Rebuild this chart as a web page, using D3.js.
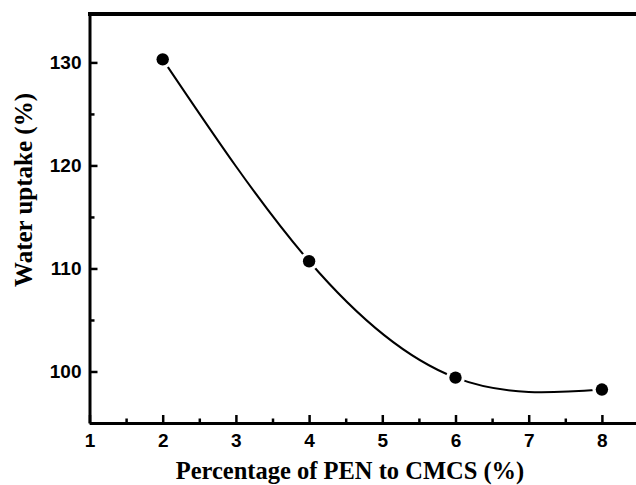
<!DOCTYPE html>
<meta charset="utf-8">
<script src="https://d3js.org/d3.v7.min.js"></script>
<style>
body { margin: 0; background: #fff; }
</style>
<div id="chart"></div>
<script>

// data
var pen = [2, 4, 6, 8];                  // % PEN to CMCS
var uptake = [130.3, 110.7, 99.4, 98.25]; // water uptake (%)
var xTicks = [1, 2, 3, 4, 5, 6, 7, 8];
var yTicks = [100, 110, 120, 130];
var xMinor = [1.5, 2.5, 3.5, 4.5, 5.5, 6.5, 7.5];
var yMinor = [95, 105, 115, 125];

var W = 636, H = 485;

var svg = d3.select("#chart")
  .append("svg")
    .attr("width", W)
    .attr("height", H);

var x = d3.scaleLinear()
  .domain([1, 8.5])
  .range([89.5, 638.5]);

var y = d3.scaleLinear()
  .domain([95, 134.7])
  .range([423, 14]);

var data = pen.map(function(d, i) { return {x: d, y: uptake[i]}; });

// curve (spline through the points)
var line = d3.line()
  .x(function(d) { return x(d.x); })
  .y(function(d) { return y(d.y); })
  .curve(d3.curveNatural);

svg.append("path")
  .datum(data)
  .attr("d", line)
  .attr("fill", "none")
  .attr("stroke", "#000")
  .attr("stroke-width", 2);

// white halo so the line stops short of each marker
svg.append("g")
  .selectAll("circle")
  .data(data)
  .join("circle")
    .attr("cx", function(d) { return x(d.x); })
    .attr("cy", function(d) { return y(d.y); })
    .attr("r", 9.5)
    .attr("fill", "#fff");

svg.append("g")
  .selectAll("circle")
  .data(data)
  .join("circle")
    .attr("cx", function(d) { return x(d.x); })
    .attr("cy", function(d) { return y(d.y); })
    .attr("r", 6.2)
    .attr("fill", "#000");

// top frame line
svg.append("line")
  .attr("x1", x(1) - 1.5).attr("x2", W)
  .attr("y1", y(134.7)).attr("y2", y(134.7))
  .attr("stroke", "#000")
  .attr("stroke-width", 4);

var tickFont = function(g) {
  g.selectAll("text")
    .attr("font-family", "'Liberation Sans', Arial, sans-serif")
    .attr("font-weight", "bold")
    .attr("font-size", "19px")
    .attr("fill", "#000");
  g.selectAll("line").attr("stroke", "#000").attr("stroke-width", 2.5);
};

// x axis: minor then major
svg.append("g")
  .attr("transform", "translate(0," + y(95) + ")")
  .call(d3.axisBottom(x).tickValues(xMinor).tickSize(-4.5).tickFormat(""))
  .call(function(g) { g.select(".domain").remove(); })
  .call(tickFont);

svg.append("g")
  .attr("transform", "translate(0," + y(95) + ")")
  .call(d3.axisBottom(x).tickValues(xTicks).tickSizeInner(-8).tickSizeOuter(0).tickPadding(11))
  .call(function(g) { g.select(".domain").attr("stroke", "#000").attr("stroke-width", 3); })
  .call(tickFont);

// y axis
svg.append("g")
  .attr("transform", "translate(" + x(1) + ",0)")
  .call(d3.axisLeft(y).tickValues(yMinor).tickSize(-5).tickFormat(""))
  .call(function(g) { g.select(".domain").remove(); })
  .call(tickFont);

svg.append("g")
  .attr("transform", "translate(" + x(1) + ",0)")
  .call(d3.axisLeft(y).tickValues(yTicks).tickSizeInner(-8).tickSizeOuter(0).tickPadding(8))
  .call(function(g) { g.select(".domain").attr("stroke", "#000").attr("stroke-width", 3); })
  .call(tickFont);

// axis titles
svg.append("text")
  .attr("x", 350)
  .attr("y", 479)
  .attr("text-anchor", "middle")
  .attr("font-family", "'Liberation Serif', 'Times New Roman', serif")
  .attr("font-weight", "bold")
  .attr("font-size", "24.5px")
  .text("Percentage of PEN to CMCS (%)");

svg.append("text")
  .attr("transform", "translate(32,190) rotate(-90)")
  .attr("text-anchor", "middle")
  .attr("font-family", "'Liberation Serif', 'Times New Roman', serif")
  .attr("font-weight", "bold")
  .attr("font-size", "25px")
  .text("Water uptake (%)");

</script>
